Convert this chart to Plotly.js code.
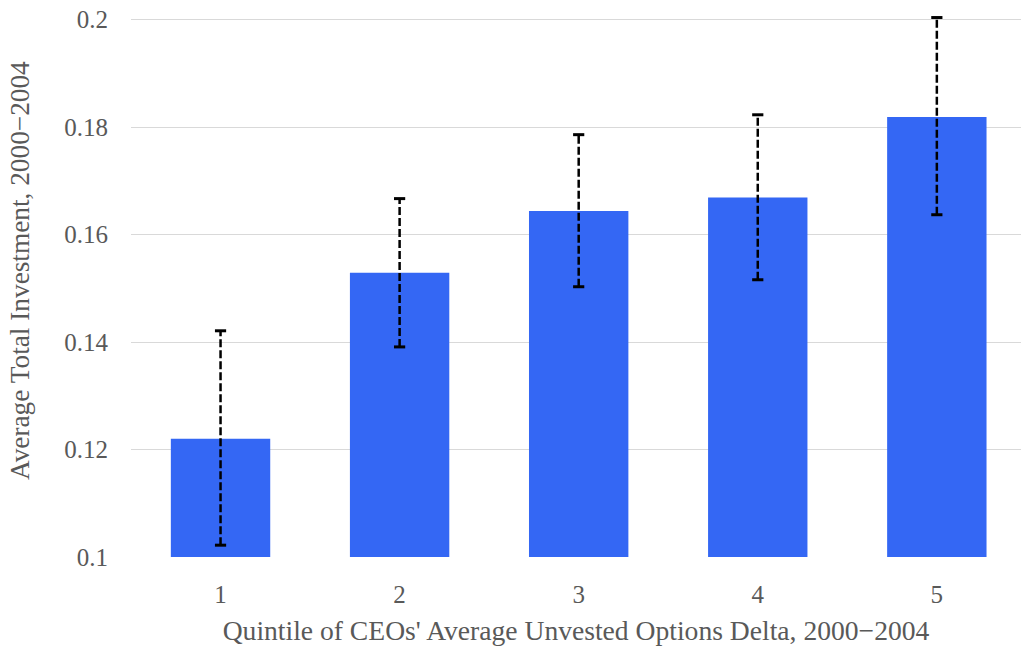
<!DOCTYPE html>
<html>
<head>
<meta charset="utf-8">
<script src="https://cdn.plot.ly/plotly-3.0.1.min.js"></script>
<style>html,body{margin:0;padding:0;background:#fff;}#chart{width:1021px;height:652px;}</style>
</head>
<body>
<div id="chart"></div>
<script>
var categories = ['1', '2', '3', '4', '5'];
var means = [0.122, 0.1529, 0.1644, 0.1669, 0.1819];
var errUpper = [0.1421, 0.1667, 0.1786, 0.1823, 0.2004];
var errLower = [0.1022, 0.1391, 0.1503, 0.1516, 0.1637];
var yTicks = [0.1, 0.12, 0.14, 0.16, 0.18, 0.2];
var xTitle = "Quintile of CEOs' Average Unvested Options Delta, 2000\u22122004";
var yTitle = 'Average Total Investment, 2000\u22122004';

var segX = [], segY = [], capX = [], capY = [];
for (var i = 0; i < categories.length; i++) {
  segX.push(categories[i], categories[i], null);
  segY.push(errLower[i], errUpper[i], null);
  capX.push(categories[i], categories[i]);
  capY.push(errLower[i], errUpper[i]);
}

var fontFam = '"Liberation Serif", "Times New Roman", serif';
var txtColor = '#595959';
var traces = [
  {type: 'bar', x: categories, y: means, marker: {color: '#3467f4'}, width: 0.555, hoverinfo: 'y'},
  {type: 'scatter', mode: 'lines', x: segX, y: segY, cliponaxis: false, line: {color: '#000', width: 2.5, dash: '8px,3px'}, hoverinfo: 'skip'},
  {type: 'scatter', mode: 'markers', x: capX, y: capY, cliponaxis: false, marker: {symbol: 'line-ew', size: 8, line: {color: '#000', width: 3}}, hoverinfo: 'skip'}
];

var layout = {
  width: 1021, height: 652,
  margin: {l: 131, r: 0, t: 17, b: 95},
  showlegend: false,
  paper_bgcolor: '#fff', plot_bgcolor: '#fff',
  font: {family: fontFam, color: txtColor, size: 25},
  bargap: 0.44,
  xaxis: {
    type: 'category', range: [-0.5, 4.47],
    showgrid: false, zeroline: false, showline: false, ticks: '',
    ticklabelstandoff: 20,
    tickfont: {size: 25, family: fontFam, color: txtColor},
    title: {text: xTitle, font: {size: 27.6, family: fontFam, color: txtColor}, standoff: 13}
  },
  yaxis: {
    range: [0.1, 0.2005], tickvals: yTicks, ticktext: yTicks.map(String),
    showgrid: true, gridcolor: '#d9d9d9', gridwidth: 1, zeroline: false, showline: false, ticks: '',
    ticklabelstandoff: 22,
    tickfont: {size: 25, family: fontFam, color: txtColor}
  },
  annotations: [{
    text: yTitle, textangle: -90, showarrow: false,
    xref: 'paper', yref: 'paper', x: -0.1247, y: 0.5296,
    xanchor: 'center', yanchor: 'middle',
    font: {size: 27.3, family: fontFam, color: txtColor}
  }]
};

Plotly.newPlot('chart', traces, layout, {displayModeBar: false, staticPlot: true});
</script>
</body>
</html>
